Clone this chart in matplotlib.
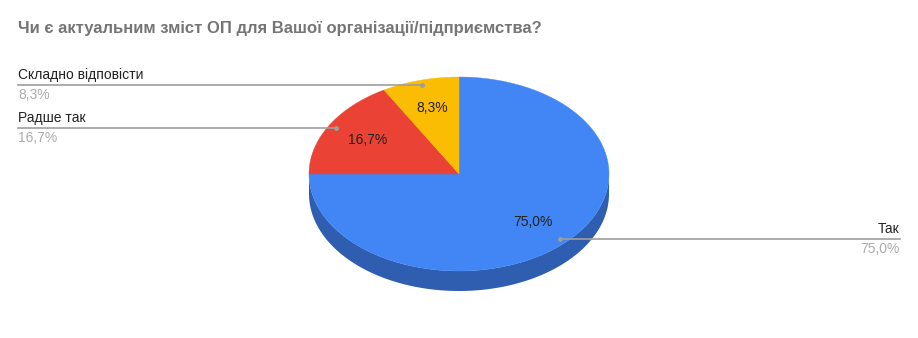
import matplotlib
matplotlib.use('Agg')
import matplotlib.pyplot as plt
import numpy as np
from matplotlib.patches import Polygon

plt.rcParams['font.family'] = ['Liberation Sans', 'DejaVu Sans']

title = 'Чи є актуальним зміст ОП для Вашої організації/підприємства?'
labels = ['Так', 'Радше так', 'Складно відповісти']
counts = [9, 2, 1]
colors = ['#4285F4', '#EA4335', '#FBBC04']
side_colors = ['#2F5DAF', '#A52F25', '#B08503']

W, H = 918, 338
cx, cy = 459, 174
rx, ry = 150, 97
depth = 20

fig = plt.figure(figsize=(W / 100, H / 100), dpi=100)
ax = fig.add_axes([0, 0, 1, 1])
ax.set_xlim(0, W)
ax.set_ylim(H, 0)
ax.axis('off')


def pt(theta, f=1.0):
    # theta in degrees, clockwise from 12 o'clock
    t = np.radians(theta)
    return cx + f * rx * np.sin(t), cy - f * ry * np.cos(t)


total = sum(counts)
fracs = [c / total for c in counts]
starts = np.cumsum([0] + fracs[:-1]) * 360
ends = np.cumsum(fracs) * 360

# side of the pie (front half only)
for s, e, sc in zip(starts, ends, side_colors):
    a0, a1 = max(s, 90), min(e, 270)
    if a1 <= a0:
        continue
    th = np.linspace(a0, a1, 200)
    xs, ys = pt(th)
    poly = np.vstack([np.column_stack([xs, ys]),
                      np.column_stack([xs[::-1], ys[::-1] + depth])])
    ax.add_patch(Polygon(poly, closed=True, fc=sc, ec='none', zorder=1))

# top face
for s, e, c in zip(starts, ends, colors):
    th = np.linspace(s, e, 300)
    xs, ys = pt(th)
    poly = np.vstack([[cx, cy], np.column_stack([xs, ys])])
    ax.add_patch(Polygon(poly, closed=True, fc=c, ec=c, lw=0.3, zorder=2))

# labels
for i, (s, e, lab, fr) in enumerate(zip(starts, ends, labels, fracs)):
    mid = (s + e) / 2
    pct = f'{fr * 100:.1f}%'.replace('.', ',')
    lx, ly = pt(mid, 0.7)
    ax.text(lx, ly, pct, ha='center', va='center', fontsize=10,
            color='#222222', zorder=4)
    dx, dy = pt(mid, 0.95)
    ax.plot(dx, dy, 'o', ms=2.5, color='#9E9E9E', zorder=5)
    if dx > cx:
        x_end = 900
        ha = 'right'
    else:
        x_end = 18
        ha = 'left'
    ax.plot([dx, x_end], [dy, dy], color='#9E9E9E', lw=1.2, zorder=5)
    ax.text(x_end, dy - 3, lab, ha=ha, va='bottom', fontsize=10,
            color='#222222')
    ax.text(x_end, dy + 3, pct, ha=ha, va='top', fontsize=10,
            color='#ABABAB')

ax.text(18, 28, title, ha='left', va='center', fontsize=12,
        fontweight='bold', color='#757575')

fig.savefig('out.png', dpi=100)
